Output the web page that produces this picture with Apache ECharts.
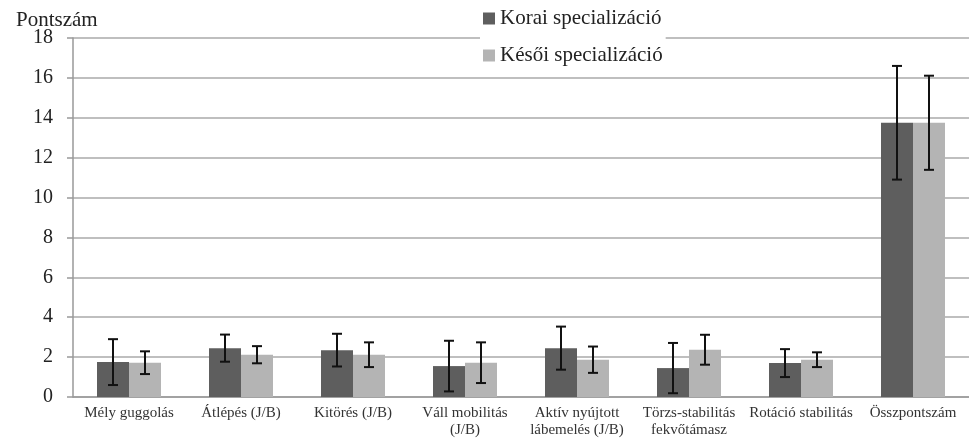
<!DOCTYPE html>
<html>
<head>
<meta charset="utf-8">
<title>Pontszám</title>
<script src="https://cdn.jsdelivr.net/npm/echarts@6/dist/echarts.min.js"></script>
<style>
    html, body { margin: 0; padding: 0; background: #fff; }
    #main { width: 969px; height: 440px; }
</style>
</head>
<body>
<div id="main"></div>
<script>
// kategóriák (x tengely)
var categories = ['Mély guggolás', 'Átlépés (J/B)', 'Kitörés (J/B)', 'Váll mobilitás\n(J/B)',
    'Aktív nyújtott\nlábemelés (J/B)', 'Törzs-stabilitás\nfekvőtámasz', 'Rotáció stabilitás', 'Összpontszám'];
var seriesNames = ['Korai specializáció', 'Késői specializáció'];
// átlagok és szórások
var koraiMean = [1.75, 2.45, 2.35, 1.55, 2.45, 1.45, 1.7, 13.75];
var koraiSd = [1.15, 0.68, 0.82, 1.27, 1.08, 1.26, 0.7, 2.85];
var kesoiMean = [1.72, 2.12, 2.12, 1.72, 1.87, 2.37, 1.87, 13.75];
var kesoiSd = [0.57, 0.43, 0.62, 1.02, 0.66, 0.75, 0.37, 2.36];
var yTicks = [0, 2, 4, 6, 8, 10, 12, 14, 16, 18];

var serif = "'Liberation Serif', 'DejaVu Serif', serif";
var barW = 32;

// hibasáv adatok: [kategória index, átlag, szórás]
function errData(mean, sd) {
    return mean.map(function (v, i) {
        return [i, v, sd[i]];
    });
}

function errRender(offset) {
    return function (params, api) {
        var i = api.value(0), m = api.value(1), s = api.value(2);
        var top = api.coord([i, m + s]);
        var bot = api.coord([i, m - s]);
        var x = top[0] + offset;
        var cap = 5;
        var st = { stroke: '#111', lineWidth: 2 };
        return {
            type: 'group',
            children: [
                { type: 'line', shape: { x1: x, y1: top[1], x2: x, y2: bot[1] }, style: st },
                { type: 'line', shape: { x1: x - cap, y1: top[1], x2: x + cap, y2: top[1] }, style: st },
                { type: 'line', shape: { x1: x - cap, y1: bot[1], x2: x + cap, y2: bot[1] }, style: st }
            ]
        };
    };
}

var myChart = echarts.init(document.getElementById('main'));
var option = {
    animation: false,
    backgroundColor: '#fff',
    title: {
        text: 'Pontszám',
        left: 11,
        top: 5,
        textStyle: { fontFamily: serif, fontSize: 21, fontWeight: 'normal', color: '#222' }
    },
    legend: {
        orient: 'vertical',
        left: 480,
        top: 5,
        padding: [3, 3, 3, 3],
        backgroundColor: '#fff',
        itemWidth: 12,
        itemHeight: 12,
        itemGap: 16,
        icon: 'rect',
        data: seriesNames,
        textStyle: { fontFamily: serif, fontSize: 21, color: '#222' }
    },
    grid: { left: 73, right: -4, top: 38, bottom: 43 },
    xAxis: {
        type: 'category',
        data: categories,
        axisLine: { lineStyle: { color: '#999', width: 1.5 } },
        axisTick: { length: 5, lineStyle: { color: '#999', width: 1.5 } },
        axisLabel: {
            interval: 0,
            margin: 8,
            fontFamily: serif,
            fontSize: 15,
            lineHeight: 17,
            color: '#333'
        }
    },
    yAxis: {
        type: 'value',
        min: yTicks[0],
        max: yTicks[yTicks.length - 1],
        interval: 2,
        axisLine: { show: true, lineStyle: { color: '#999', width: 1.5 } },
        axisTick: { show: true, length: 6, lineStyle: { color: '#999', width: 1.5 } },
        axisLabel: { margin: 20, fontFamily: serif, fontSize: 20, color: '#222' },
        splitLine: { lineStyle: { color: '#aaa', width: 1.5 } }
    },
    series: [
        {
            name: seriesNames[0],
            type: 'bar',
            barWidth: barW,
            barGap: 0,
            itemStyle: { color: '#5e5e5e' },
            data: koraiMean
        },
        {
            name: seriesNames[1],
            type: 'bar',
            barWidth: barW,
            barGap: 0,
            itemStyle: { color: '#b4b4b4' },
            data: kesoiMean
        },
        {
            type: 'custom',
            renderItem: errRender(-barW / 2),
            data: errData(koraiMean, koraiSd),
            z: 10
        },
        {
            type: 'custom',
            renderItem: errRender(barW / 2),
            data: errData(kesoiMean, kesoiSd),
            z: 10
        }
    ]
};
myChart.setOption(option);
</script>
</body>
</html>
